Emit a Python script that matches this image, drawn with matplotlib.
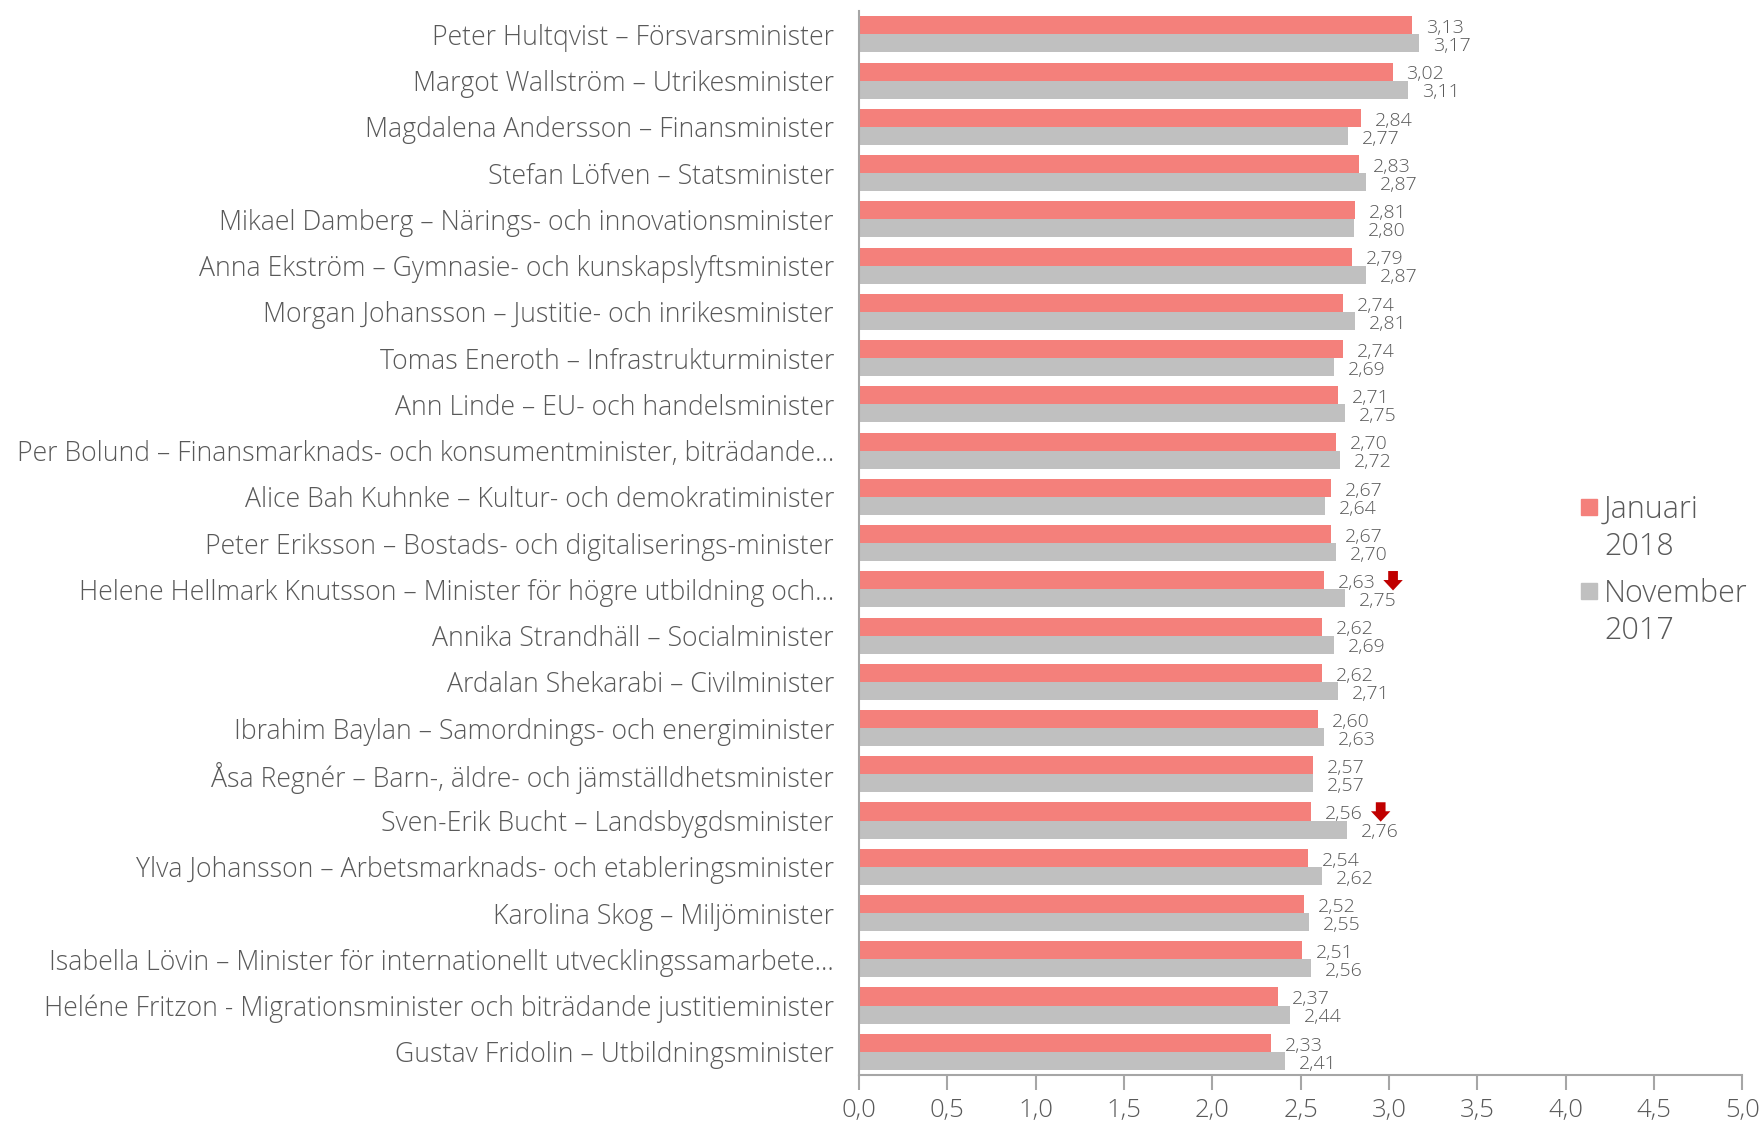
import matplotlib.pyplot as plt
import matplotlib.ticker as mticker
import matplotlib.transforms as mtransforms
from matplotlib.patches import Rectangle
import numpy as np

plt.rcParams['font.family'] = ['Open Sans', 'DejaVu Sans']

ministers = [
    'Peter Hultqvist – Försvarsminister',
    'Margot Wallström – Utrikesminister',
    'Magdalena Andersson – Finansminister',
    'Stefan Löfven – Statsminister',
    'Mikael Damberg – Närings- och innovationsminister',
    'Anna Ekström – Gymnasie- och kunskapslyftsminister',
    'Morgan Johansson – Justitie- och inrikesminister',
    'Tomas Eneroth – Infrastrukturminister',
    'Ann Linde – EU- och handelsminister',
    'Per Bolund – Finansmarknads- och konsumentminister, biträdande…',
    'Alice Bah Kuhnke – Kultur- och demokratiminister',
    'Peter Eriksson – Bostads- och digitaliserings-minister',
    'Helene Hellmark Knutsson – Minister för högre utbildning och…',
    'Annika Strandhäll – Socialminister',
    'Ardalan Shekarabi – Civilminister',
    'Ibrahim Baylan – Samordnings- och energiminister',
    'Åsa Regnér – Barn-, äldre- och jämställdhetsminister',
    'Sven-Erik Bucht – Landsbygdsminister',
    'Ylva Johansson – Arbetsmarknads- och etableringsminister',
    'Karolina Skog – Miljöminister',
    'Isabella Lövin – Minister för internationellt utvecklingssamarbete…',
    'Heléne Fritzon - Migrationsminister och biträdande justitieminister',
    'Gustav Fridolin – Utbildningsminister',
]
jan_2018 = [3.13, 3.02, 2.84, 2.83, 2.81, 2.79, 2.74, 2.74, 2.71, 2.70, 2.67, 2.67,
            2.63, 2.62, 2.62, 2.60, 2.57, 2.56, 2.54, 2.52, 2.51, 2.37, 2.33]
nov_2017 = [3.17, 3.11, 2.77, 2.87, 2.80, 2.87, 2.81, 2.69, 2.75, 2.72, 2.64, 2.70,
            2.75, 2.69, 2.71, 2.63, 2.57, 2.76, 2.62, 2.55, 2.56, 2.44, 2.41]
# rows marked with a red down arrow
drops = ['Helene Hellmark Knutsson – Minister för högre utbildning och…',
         'Sven-Erik Bucht – Landsbygdsminister']

red = '#f4807b'
grey = '#c0c0c0'
txt = '#595959'

W, H = 1760, 1122
fig = plt.figure(figsize=(W / 100, H / 100), dpi=100)
ax = fig.add_axes([0.488, 0.042, 0.502, 0.948])

y = np.arange(len(ministers))
h = 0.39
ax.barh(y - h / 2, jan_2018, height=h, color=red)
ax.barh(y + h / 2, nov_2017, height=h, color=grey)

def fmt(v):
    return f'{v:.2f}'.replace('.', ',')

arrow_tr = mtransforms.offset_copy(ax.transData, fig=fig, x=50, y=0, units='points')
for i in range(len(ministers)):
    ax.annotate(fmt(jan_2018[i]), (jan_2018[i], y[i] - h / 2), xytext=(10, -2),
                textcoords='offset points', va='center', ha='left', fontsize=14,
                color=txt, fontweight='light')
    ax.annotate(fmt(nov_2017[i]), (nov_2017[i], y[i] + h / 2), xytext=(10, -2),
                textcoords='offset points', va='center', ha='left', fontsize=14,
                color=txt, fontweight='light')
    if ministers[i] in drops:
        ax.annotate('', xy=(jan_2018[i], y[i] - h / 2 + 0.22),
                    xytext=(jan_2018[i], y[i] - h / 2 - 0.2),
                    xycoords=arrow_tr, textcoords=arrow_tr,
                    arrowprops=dict(arrowstyle='simple,head_width=1.4,head_length=0.75,tail_width=0.7',
                                    color='#c00000', lw=0, shrinkA=0, shrinkB=0))

ax.set_yticks(y)
ax.set_yticklabels(ministers, fontsize=19.2, color=txt, fontweight='light')
ax.set_ylim(len(ministers) - 0.5, -0.5)
ax.set_xlim(0, 5)
ax.xaxis.set_major_locator(mticker.MultipleLocator(0.5))
ax.xaxis.set_major_formatter(mticker.FuncFormatter(lambda v, p: f'{v:.1f}'.replace('.', ',')))
ax.tick_params(axis='y', length=0, pad=18)
ax.tick_params(axis='x', direction='out', length=11, width=1.5, color='#a6a6a6',
               labelsize=18.5, labelcolor=txt, pad=6)
for lb in ax.get_xticklabels():
    lb.set_fontweight('light')

for s in ['top', 'right']:
    ax.spines[s].set_visible(False)
for s in ['left', 'bottom']:
    ax.spines[s].set_color('#a6a6a6')
    ax.spines[s].set_linewidth(1.5)

# legend, square aligned with the first line of each entry
legend_items = [('Januari\n2018', red, 507), ('November\n2017', grey, 591)]
for label, col, py in legend_items:
    fig.patches.append(Rectangle((1581 / W, 1 - (py + 8) / H), 16 / W, 16 / H,
                                 transform=fig.transFigure, color=col))
    fig.text(1604 / W, 1 - (py - 13) / H, label, fontsize=22, color=txt,
             fontweight='light', va='top', ha='left', linespacing=1.2)

fig.savefig('out.png', dpi=100)
